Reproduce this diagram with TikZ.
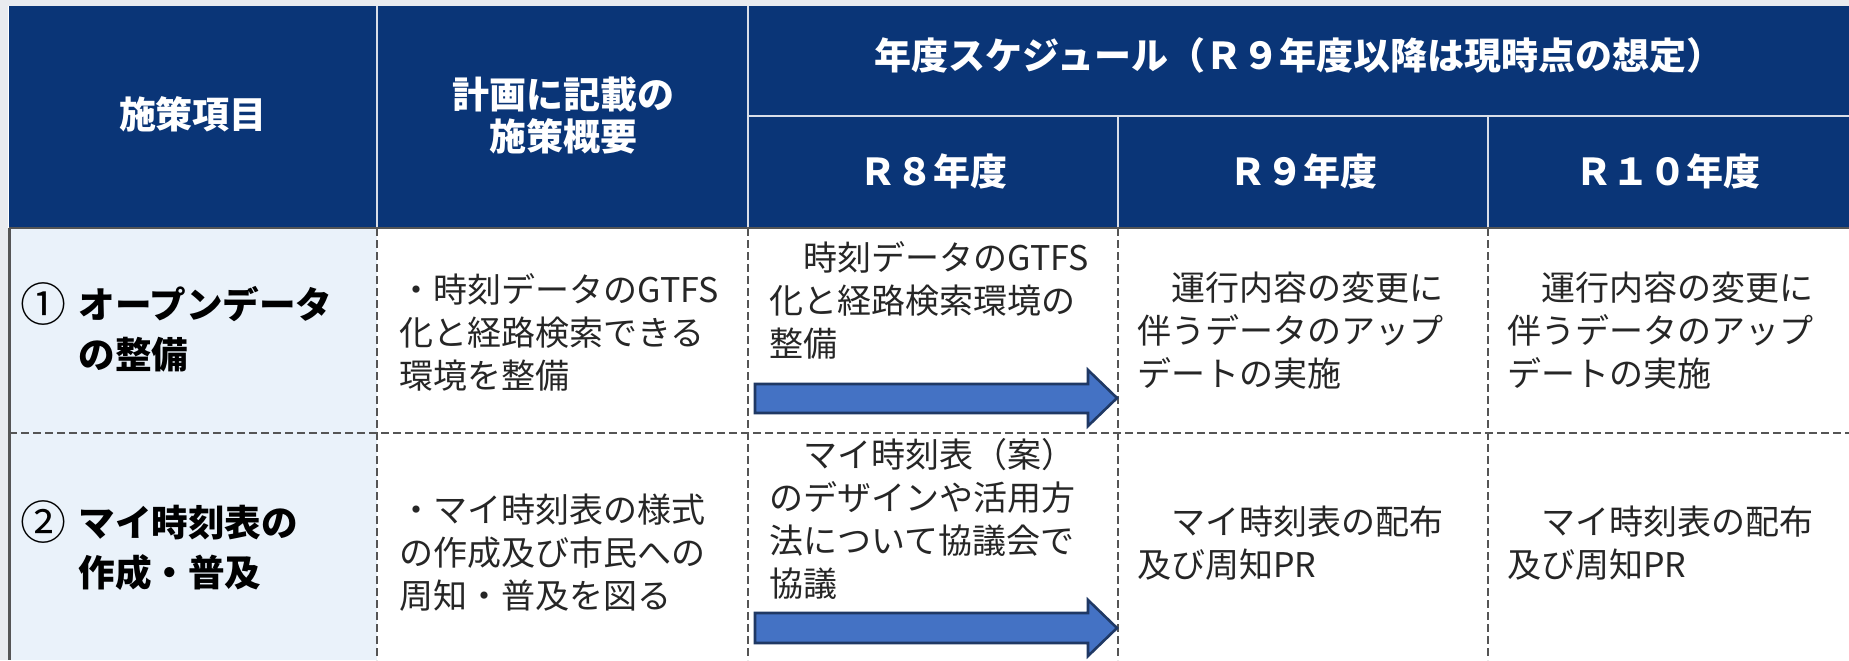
\documentclass[tikz,border=0pt]{standalone}
\usepackage{fontspec}
\setmainfont{Noto Sans CJK JP}
\definecolor{navy}{HTML}{0A3577}
\definecolor{hdrline}{HTML}{D9DEE8}
\definecolor{labfill}{HTML}{EAF2FA}
\definecolor{gridgray}{HTML}{555555}
\definecolor{textgray}{HTML}{262626}
\definecolor{arrowblue}{HTML}{4472C4}
\definecolor{arrowedge}{HTML}{1F3864}
\definecolor{margin}{HTML}{E9EBEF}
\begin{document}
\begin{tikzpicture}[x=0.5pt,y=-0.5pt,
  hdr/.style={font=\fontsize{18.5pt}{21pt}\selectfont\bfseries, text=white, inner sep=0pt, align=center, anchor=base},
  body/.style={font=\fontsize{17pt}{21.5pt}\selectfont, text=textgray, inner sep=0pt, align=left, anchor=base west},
  lab/.style={font=\fontsize{18.3pt}{25pt}\selectfont\bfseries, inner sep=0pt, align=left, anchor=base west},
  num/.style={font=\fontsize{23pt}{25pt}\selectfont, inner sep=0pt, anchor=base west},
  gridline/.style={draw=gridgray, line width=1.1pt, dash pattern=on 4pt off 2pt},
  hline/.style={draw=hdrline, line width=0.8pt},
  barrow/.style={fill=arrowblue, draw=arrowedge, line width=1.3pt, line join=miter}
]
\useasboundingbox (0,0) rectangle (1849,660);
% background and margins
\fill[white] (0,0) rectangle (1849,660);
\fill[margin] (0,0) rectangle (1849,6);
\fill[margin] (0,0) rectangle (8,660);
% header
\fill[navy] (9,6) rectangle (1849,228);
\draw[hline] (377,6) -- (377,228);
\draw[hline] (748,6) -- (748,228);
\draw[hline] (748,116) -- (1849,116);
\draw[hline] (1118,116) -- (1118,228);
\draw[hline] (1488,116) -- (1488,228);
% body
\fill[labfill] (9,228) rectangle (377,660);
\draw[gridline] (377,228) -- (377,660);
\draw[gridline] (748,228) -- (748,660);
\draw[gridline] (1118,228) -- (1118,660);
\draw[gridline] (1488,228) -- (1488,660);
\draw[gridline] (9,433) -- (1849,433);
\draw[draw=gridgray, line width=1.5pt] (9,228) -- (9,660);
\draw[draw=gridgray, line width=1.3pt] (9,228) -- (1849,228);
% header texts (base anchor = baseline of last line)
\node[hdr] (h1) at (193,128) {施策項目};
\node[hdr] (h2) at (563,150) {計画に記載の\\施策概要};
\node[hdr] (h3) at (1299,69) {年度スケジュール（Ｒ９年度以降は現時点の想定）};
\node[hdr] (h4) at (933,185) {Ｒ８年度};
\node[hdr] (h5) at (1303,185) {Ｒ９年度};
\node[hdr] (h6) at (1668,185) {Ｒ１０年度};
% row labels
\node[num] (n1) at (20,321) {①};
\node[lab] (l1) at (78,368) {オープンデータ\\の整備};
\node[num] (n2) at (20,539) {②};
\node[lab] (l2) at (78,586) {マイ時刻表の\\作成・普及};
% row 1 body
\node[body] (r1c1) at (399,388) {・時刻データのGTFS\\化と経路検索できる\\環境を整備};
\node[body] (r1c2) at (769,356) {　時刻データのGTFS\\化と経路検索環境の\\整備};
\node[body] (r1c3) at (1137,386) {　運行内容の変更に\\伴うデータのアップ\\デートの実施};
\node[body] (r1c4) at (1507,386) {　運行内容の変更に\\伴うデータのアップ\\デートの実施};
% row 2 body
\node[body] (r2c1) at (399,608) {・マイ時刻表の様式\\の作成及び市民への\\周知・普及を図る};
\node[body] (r2c2) at (769,596) {　マイ時刻表（案）\\のデザインや活用方\\法について協議会で\\協議};
\node[body] (r2c3) at (1137,577) {　マイ時刻表の配布\\及び周知PR};
\node[body] (r2c4) at (1507,577) {　マイ時刻表の配布\\及び周知PR};
% arrows
\draw[barrow] (755,384) -- (1088,384) -- (1088,370) -- (1117,398) -- (1088,426) -- (1088,413) -- (755,413) -- cycle;
\draw[barrow] (755,613) -- (1088,613) -- (1088,600) -- (1117,628) -- (1088,656) -- (1088,643) -- (755,643) -- cycle;
\end{tikzpicture}
\end{document}
